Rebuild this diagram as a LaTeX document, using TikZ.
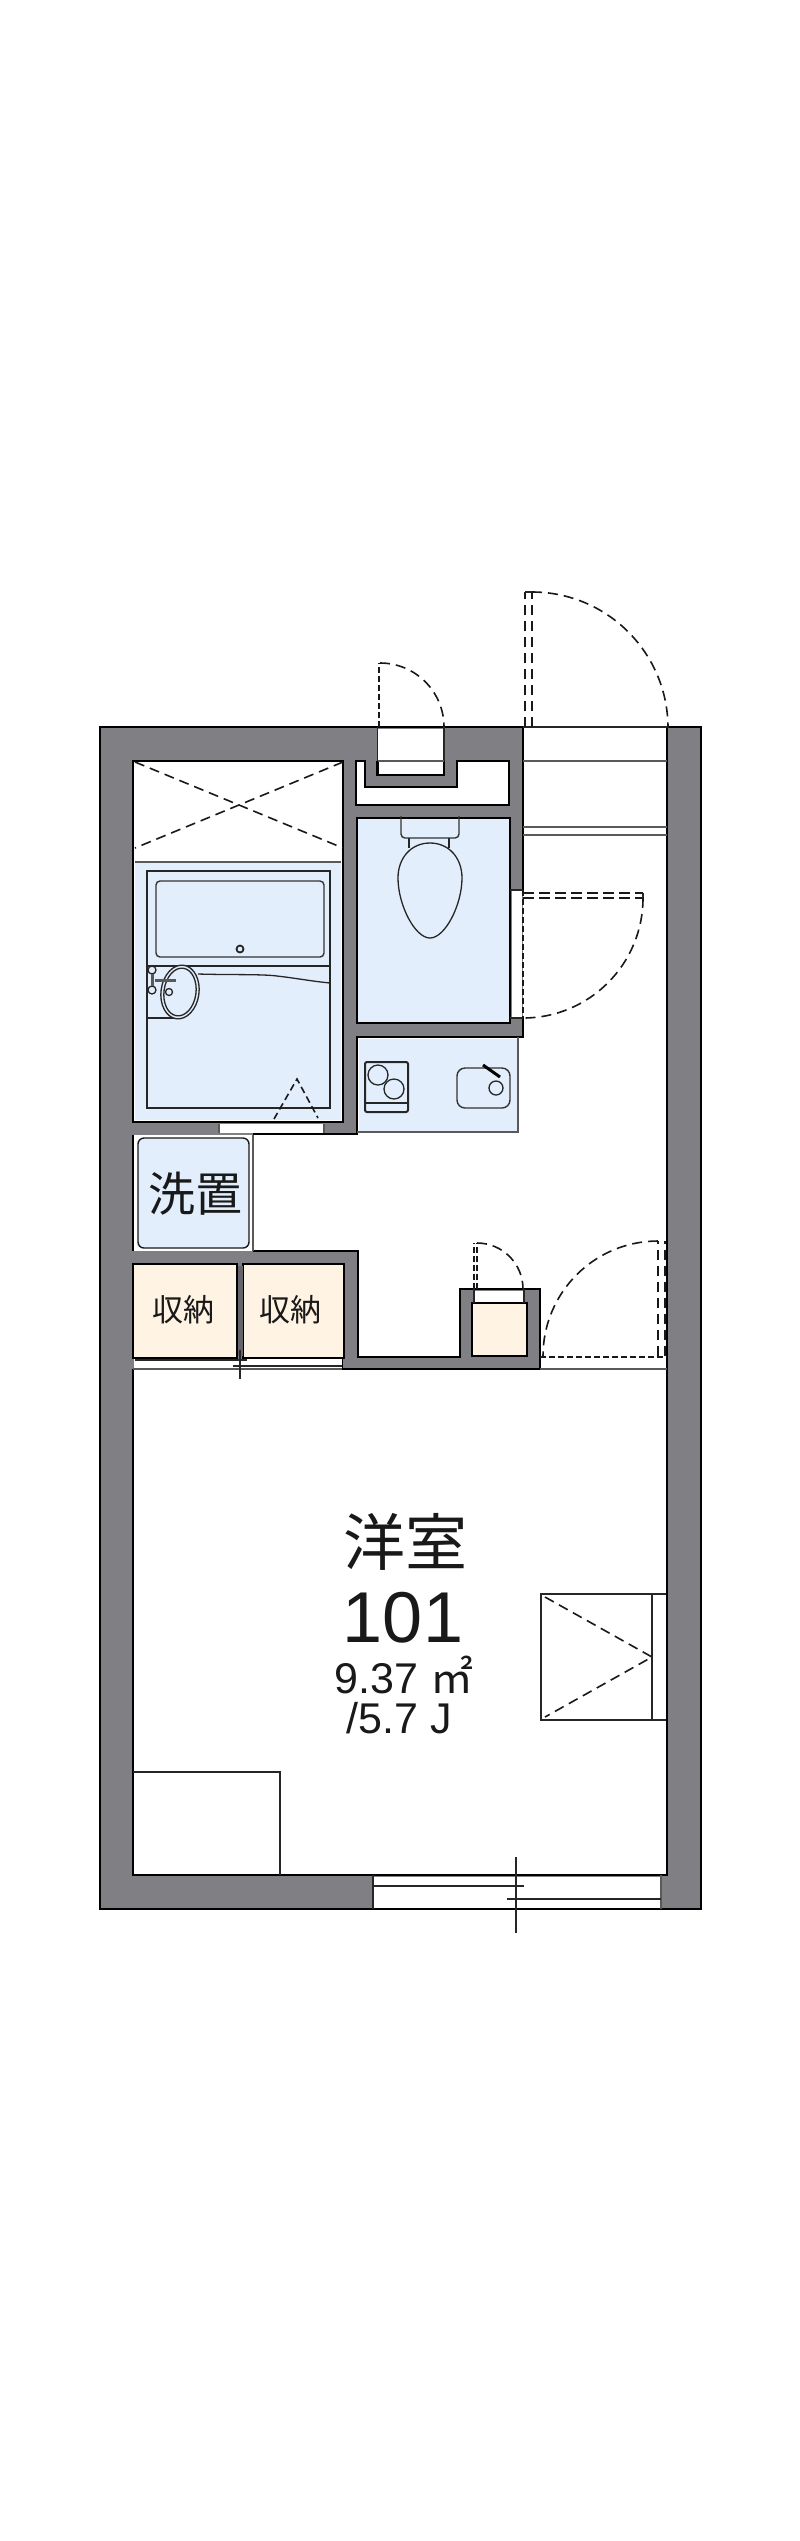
\documentclass[tikz,border=0pt]{standalone}
\usepackage{fontspec}
\setmainfont{Liberation Sans}
\newfontfamily\cjk{Noto Sans CJK JP}
\definecolor{wallgrey}{HTML}{807F84}
\definecolor{wetblue}{HTML}{E3EEFC}
\definecolor{storecream}{HTML}{FFF4E3}
\tikzset{
    heavy/.style={draw=black, line width=2.6pt, line join=miter},
    fine/.style={draw=black!85, line width=1.3pt},
    greyline/.style={draw=black!65, line width=1.5pt},
    swing/.style={draw=black!90, line width=1.6pt, dash pattern=on 10pt off 6pt},
    fixture/.style={draw=black!80, line width=1.4pt, rounded corners=4pt},
    label/.style={inner sep=0pt, text=black!90},
}

\begin{document}
\begin{tikzpicture}[x=1pt, y=1pt, yscale=-1]
    \useasboundingbox (0,0) rectangle (800,2541);
    \fill[white] (0,0) rectangle (800,2541);

    % Murs
    \draw[fill=wallgrey, line width=2.4pt] (100,727) rectangle (701,1909);

    % Séjour et entrée
    \fill[white] (523,727) -- (667,727) -- (667,1875) -- (133,1875) -- (133,1369) -- (540,1369)
        -- (540,1289) -- (460,1289) -- (460,1357) -- (358,1357) -- (358,1251) -- (253,1251)
        -- (253,1134) -- (357,1134) -- (357,1037) -- (523,1037) -- cycle;
    \draw[heavy] (523,727) -- (523,890);
    \draw[heavy] (523,1018) -- (523,1037) -- (518,1037) -- (357,1037) -- (357,1134) -- (253,1134);
    \draw[heavy] (253,1251) -- (358,1251) -- (358,1357) -- (460,1357) -- (460,1289) -- (540,1289) -- (540,1369) -- (342,1369) -- (342,1358);
    \draw[heavy] (667,727) -- (667,1875) -- (133,1875) -- (133,1369);
    \draw[fine, line width=2pt] (523,727) -- (667,727);
    \draw[greyline] (523,761) -- (667,761);
    \draw[greyline] (523,827) -- (667,827) (523,835) -- (667,835);
    \draw[greyline] (540,1369) -- (667,1369);
    \draw[swing, dash pattern=on 6pt off 3pt] (540,1357) -- (667,1357);

    % Salle de bain
    \draw[heavy, fill=white] (133,761) rectangle (343,1122);
    \fill[wetblue] (135,862) rectangle (341,1120);
    \draw[greyline] (135,862) -- (341,862);
    \draw[swing] (135,762) -- (343,848);
    \draw[swing] (343,762) -- (135,848);
    \draw[fine, line width=1.6pt] (147,871) rectangle (330,1108);
    \draw[fixture] (156,881) rectangle (324,957);
    \draw[fine, line width=1.8pt] (240,949) circle (3.5);
    \draw[fine] (147,966) -- (330,966);
    \draw[fine] (198,974) .. controls (230,975) and (262,974) .. (277,976) .. controls (295,978) and (310,981) .. (330,983);
    \draw[fine] (147,1018) -- (180,1018);
    \draw[fine, fill=wetblue, rotate around={8:(180,992)}] (180,992) ellipse [x radius=19, y radius=27];
    \draw[fine, rotate around={8:(180,992)}] (180,992) ellipse [x radius=16, y radius=24];
    \draw[fine, fill=wetblue] (152,970) circle (4);
    \draw[fine, fill=wetblue] (152,990) circle (4);
    \draw[greyline, line width=3pt] (152,974) -- (152,986);
    \draw[greyline, line width=3pt] (155,980) -- (176,980);
    \draw[fine] (169,992) circle (3.5);
    \draw[swing, dash pattern=on 7pt off 4pt] (274,1119) -- (297,1079) -- (318,1118);
    \fill[white] (219,1124) rectangle (324,1133);
    \draw[greyline] (219,1124) -- (219,1133) (324,1124) -- (324,1133);

    % Emplacement lave-linge
    \fill[white] (133,1135) rectangle (253,1251);
    \draw[greyline, line width=2pt] (253,1135) -- (253,1251);
    \draw[heavy, line width=2pt] (133,1135) -- (133,1251);
    \draw[fixture, fill=wetblue, rounded corners=6pt, draw=black!90] (138,1138) rectangle (249,1248);
    \node[label, font=\cjk\fontsize{47}{47}\selectfont] (washer) at (195,1194) {洗置};

    % Placards
    \draw[heavy, fill=storecream] (133,1264) rectangle (237,1358);
    \draw[heavy, fill=storecream] (243,1264) rectangle (344,1358);
    \draw[draw=wallgrey!80!black, line width=5pt] (240,1266) -- (240,1356);
    \node[label, font=\cjk\fontsize{31}{31}\selectfont] (storeleft) at (183,1310) {収納};
    \node[label, font=\cjk\fontsize{31}{31}\selectfont] (storeright) at (290,1310) {収納};
    \fill[white] (134,1359) rectangle (342,1368);
    \draw[greyline] (133,1369) -- (342,1369);
    \draw[fine] (135,1360) -- (247,1360);
    \draw[fine] (233,1366) -- (342,1366);
    \draw[fine] (240,1350) -- (240,1379);

    % Petit placard de l'entrée
    \draw[heavy, fill=storecream] (472,1303) rectangle (527,1356);
    \fill[white] (474,1290.5) rectangle (524,1301.5);
    \draw[fine] (474,1289) -- (474,1303) (524,1289) -- (524,1303);
    \draw[swing, dash pattern=on 6pt off 3pt] (474,1289) -- (474,1243);
    \draw[swing, dash pattern=on 6pt off 3pt] (477,1289) -- (477,1243);
    \draw[swing] (477,1243) arc[start angle=-90, end angle=0, radius=46];

    % Toilettes
    \draw[heavy, fill=wetblue] (357,818) rectangle (510,1023);
    \fill[white] (511.5,890) rectangle (522,1018);
    \draw[fine] (510,890) -- (523,890) (510,1018) -- (523,1018);
    \draw[swing, dash pattern=on 6pt off 3pt, line width=1.2pt] (523,890) -- (523,1018);
    \draw[fixture] (401,816) -- (401,838) -- (459,838) -- (459,816);
    \draw[fine] (409,838) -- (409,848) (449,838) -- (449,848);
    \draw[fine, fill=wetblue] (430,843) .. controls (449,843) and (462,858) .. (462,878) .. controls (462,905) and (445,938) .. (430,938)
        .. controls (415,938) and (398,905) .. (398,878) .. controls (398,858) and (411,843) .. (430,843) -- cycle;
    \draw[swing, dash pattern=on 11pt off 5pt] (523,893) -- (643,893);
    \draw[swing, dash pattern=on 11pt off 5pt] (523,898) -- (643,898);
    \draw[fine] (643,893) -- (643,898);
    \draw[swing] (643,898) arc[start angle=0, end angle=90, radius=120];

    % Cuisine
    \fill[wetblue] (358.5,1038.5) rectangle (518,1132);
    \draw[greyline] (518,1037) -- (518,1132) -- (357,1132);
    \draw[fine, line width=2pt, rounded corners=2pt] (365,1062) rectangle (408,1112);
    \draw[fine] (378,1075) circle (10);
    \draw[fine] (394,1089) circle (10);
    \draw[fine] (366,1103) -- (407,1103);
    \draw[fixture, rounded corners=8pt] (457,1068) rectangle (510,1108);
    \draw[fine] (496,1088) circle (7);
    \draw[draw=black, line width=3pt] (483,1065) -- (500,1077);

    % Placard du haut
    \draw[heavy, fill=white] (356,761) -- (365,761) -- (365,787) -- (457,787) -- (457,761) -- (509,761) -- (509,805) -- (356,805) -- cycle;
    \fill[white] (377.5,728.5) rectangle (444,775);
    \draw[heavy] (377.5,761) -- (377.5,775) -- (444,775) -- (444,761);
    \draw[fine] (377.5,727) -- (377.5,761) (444,727) -- (444,761);
    \draw[greyline] (377.5,761) -- (444,761);

    % Porte du placard du haut
    \draw[swing, dash pattern=on 6pt off 3pt, line width=2pt] (379,727) -- (379,663);
    \draw[swing] (380,663) arc[start angle=-90, end angle=0, radius=64];

    % Porte d'entrée
    \draw[swing] (525,727) -- (525,592);
    \draw[swing] (532,727) -- (532,592);
    \draw[fine] (525,592) -- (532,592);
    \draw[swing] (532,592) arc[start angle=-90, end angle=0, radius=136];

    % Porte du séjour
    \draw[swing] (658,1356) -- (658,1241);
    \draw[swing] (665,1356) -- (665,1241);
    \draw[swing] (658,1241) arc[start angle=-90, end angle=-180, radius=115];

    % Placard du séjour
    \draw[fine] (666,1594) -- (541,1594) -- (541,1720) -- (666,1720);
    \draw[fine] (652,1594) -- (652,1720);
    \draw[swing] (545,1597) -- (652,1657) -- (545,1717);

    % Meuble et fenêtre
    \draw[fine] (133,1772) -- (280,1772) -- (280,1875);
    \fill[white] (373,1876.5) rectangle (661,1907.5);
    \draw[fine] (373,1875) -- (373,1909);
    \draw[greyline] (661,1875) -- (661,1909);
    \draw[fine, line width=2pt] (373,1886) -- (524,1886);
    \draw[fine, line width=2pt] (507,1899) -- (661,1899);
    \draw[fine] (516,1857) -- (516,1933);

    % Textes
    \node[label, font=\cjk\fontsize{62}{62}\selectfont] (roomname) at (405,1542) {洋室};
    \node[label, anchor=base, font=\fontsize{72}{72}\selectfont] (roomnumber) at (403,1642) {101};
    \node[label, anchor=base, font=\fontsize{43}{43}\selectfont] (roomarea) at (404,1693) {9.37 {\cjk ㎡}};
    \node[label, anchor=base, font=\fontsize{43}{43}\selectfont] (roommats) at (399,1733) {/5.7 J};
\end{tikzpicture}
\end{document}
